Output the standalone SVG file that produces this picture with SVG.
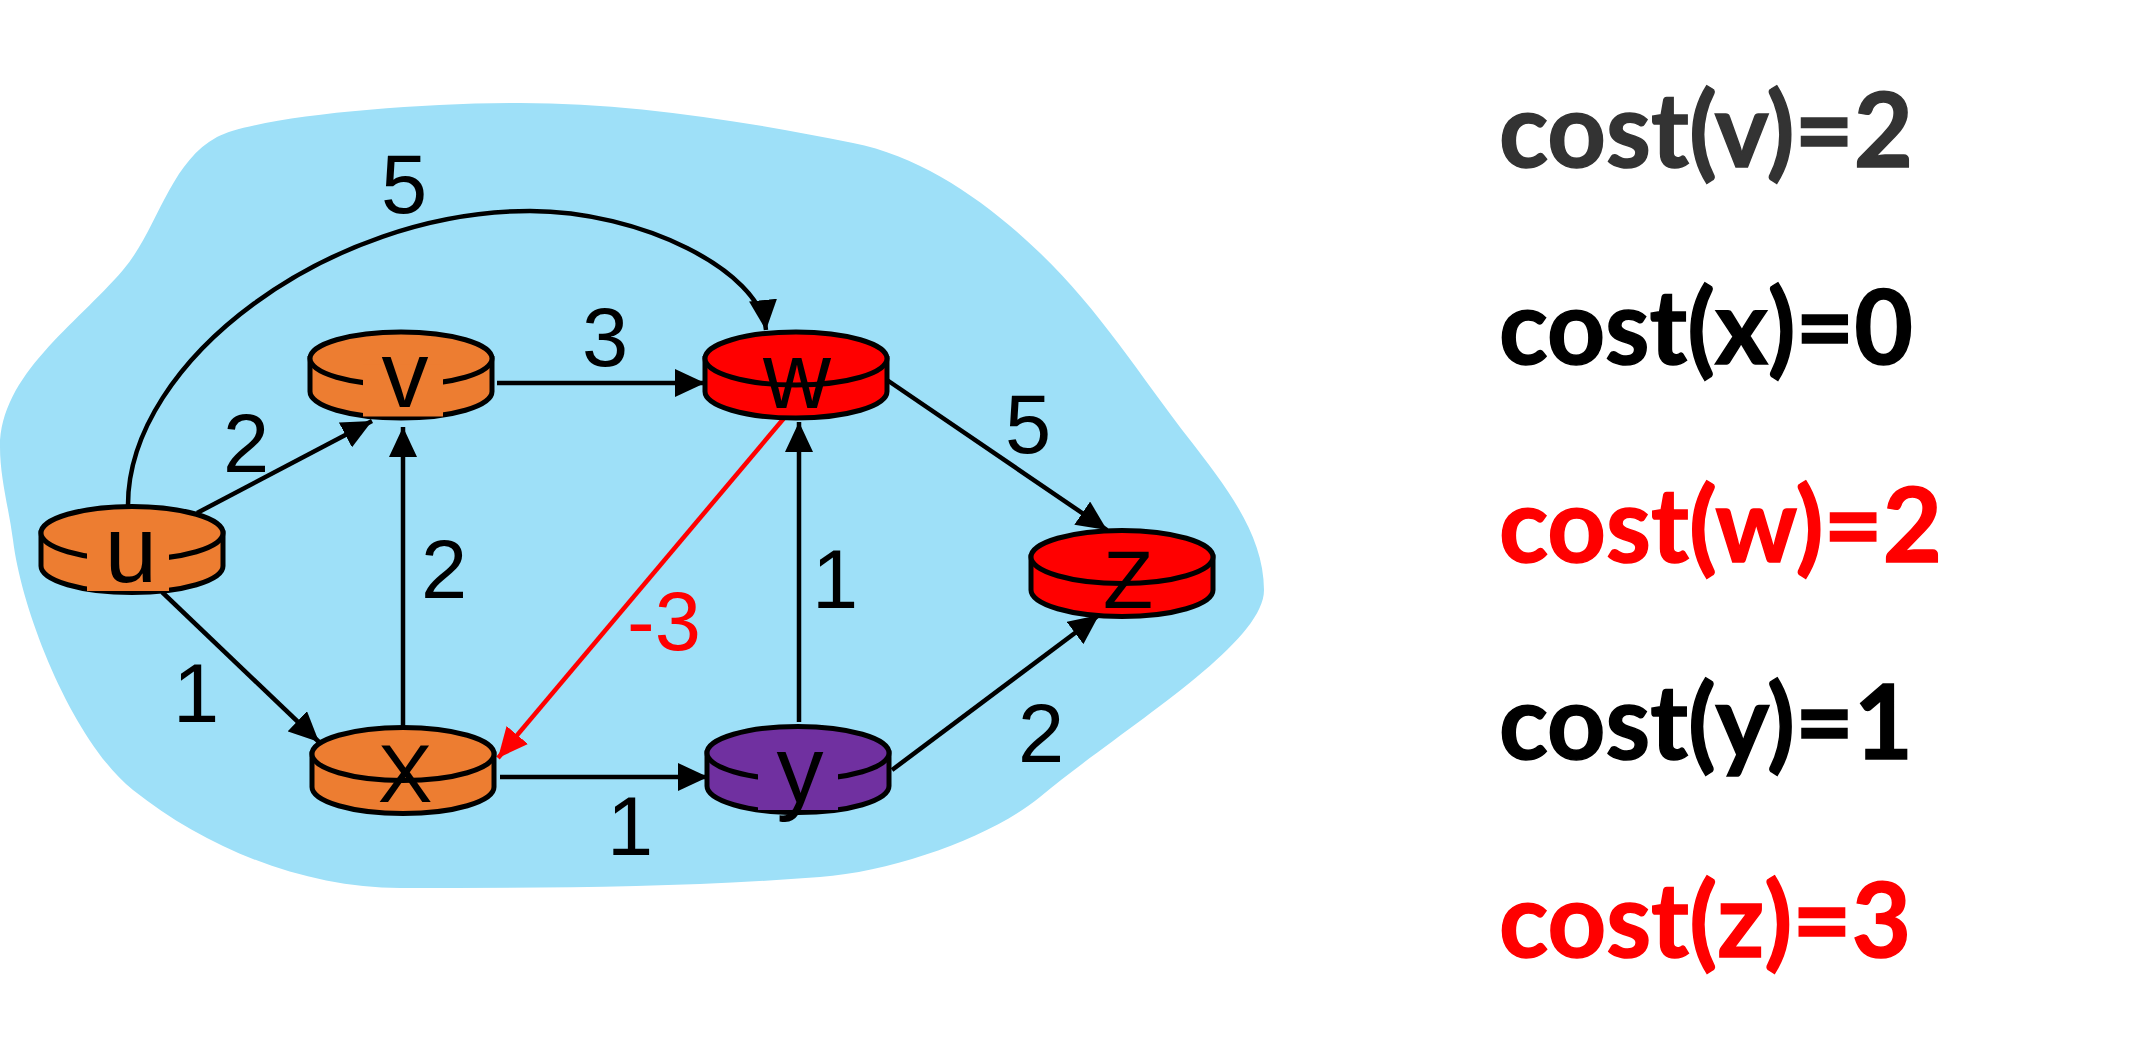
<svg xmlns="http://www.w3.org/2000/svg" xmlns:xlink="http://www.w3.org/1999/xlink" width="2143" height="1053" viewBox="0 0 2143 1053">
<style>
.blob{fill:#9EE0F8;stroke:none}
.edge{fill:none;stroke:#000;stroke-width:4.5}
.edge.red{stroke:#FF0000}
.node use{stroke:#000;stroke-width:5}
.orange{fill:#ED7D31}
.red{fill:#FF0000}
.purple{fill:#7030A0}
.nl{font-family:"Liberation Sans",Arial,sans-serif;font-size:94px;fill:#000;text-anchor:middle}
.nl.cap{font-size:82px}
.el{font-family:"Liberation Sans",Arial,sans-serif;font-size:83px;fill:#000;text-anchor:middle}
.el.neg{fill:#FF0000;text-anchor:start}
.cost{font-family:Lato,"Open Sans",sans-serif;font-weight:bold;font-size:104px;stroke-width:1.5}
</style>
<defs>
<path id="cyl" d="M-91,0 V33 A91 26.5 0 0 0 91,33 V0 Z"/>
<ellipse id="cap" cx="0" cy="0" rx="91" ry="26.5"/>
<marker id="ah" markerUnits="userSpaceOnUse" markerWidth="30" markerHeight="28" viewBox="0 0 30 28" refX="30" refY="14" orient="auto">
<path d="M0,0 L30,14 L0,28 Z" fill="#000"/>
</marker>
<marker id="ahr" markerUnits="userSpaceOnUse" markerWidth="30" markerHeight="28" viewBox="0 0 30 28" refX="30" refY="14" orient="auto">
<path d="M0,0 L30,14 L0,28 Z" fill="#FF0000"/>
</marker>
</defs>

<path class="blob" d="M0,447 C0,375 76,325 123,270 C158,229 169,163 217,137 C252,118 400,103 520,103 C631,103 744,121 853,143 C924,157 988,203 1040,253 C1098,308 1141,377 1190,440 C1224,484 1264,534 1264,590 C1264,645 1120,730 1040,797 C994,835 898,871 820,877 C680,888 540,888 400,888 C305,888 207,849 133,790 C74,743 22,614 13,540 C9,509 0,478 0,447 Z"/>

<g id="connectors">
<path class="edge" d="M128,505 C128,360 330,211 530,211 C640,211 760,270 766,330" marker-end="url(#ah)"/>
<line class="edge" x1="197" y1="513" x2="372" y2="421" marker-end="url(#ah)"/>
<line class="edge" x1="162" y1="592" x2="319" y2="742" marker-end="url(#ah)"/>
<line class="edge" x1="497" y1="383" x2="705" y2="383" marker-end="url(#ah)"/>
<line class="edge" x1="403" y1="732" x2="403" y2="427" marker-end="url(#ah)"/>
<line class="edge" x1="500" y1="777" x2="708" y2="777" marker-end="url(#ah)"/>
<line class="edge" x1="799" y1="722" x2="799" y2="422" marker-end="url(#ah)"/>
<line class="edge" x1="887" y1="380" x2="1107" y2="530" marker-end="url(#ah)"/>
<line class="edge" x1="892" y1="770" x2="1099" y2="615" marker-end="url(#ah)"/>
<line class="edge red" x1="785" y1="417" x2="498" y2="758" marker-end="url(#ahr)"/>
</g>

<g id="node-u" class="node" transform="translate(132,533)">
<use xlink:href="#cyl" class="orange"/>
<use xlink:href="#cap" class="orange"/>
<rect class="orange" x="-45" y="7" width="82" height="51"/>
<text class="nl" x="-1" y="49">u</text>
</g>
<g id="node-v" class="node" transform="translate(401,358.5)">
<use xlink:href="#cyl" class="orange"/>
<use xlink:href="#cap" class="orange"/>
<rect class="orange" x="-38" y="6" width="80" height="52"/>
<text class="nl" x="4" y="48.5">v</text>
</g>
<g id="node-w" class="node" transform="translate(796,358.5)">
<use xlink:href="#cyl" class="red"/>
<use xlink:href="#cap" class="red"/>
<text class="nl" x="1" y="49.5">w</text>
</g>
<g id="node-x" class="node" transform="translate(403,754)">
<use xlink:href="#cyl" class="orange"/>
<use xlink:href="#cap" class="orange"/>
<text class="nl cap" x="2" y="48">X</text>
</g>
<g id="node-y" class="node" transform="translate(798,753)">
<use xlink:href="#cyl" class="purple"/>
<use xlink:href="#cap" class="purple"/>
<rect class="purple" x="-40" y="7" width="80" height="50"/>
<text class="nl" x="2" y="49">y</text>
</g>
<g id="node-z" class="node" transform="translate(1122,557)">
<use xlink:href="#cyl" class="red"/>
<use xlink:href="#cap" class="red"/>
<text class="nl cap" x="6" y="51">Z</text>
</g>

<g id="edge-labels">
<text class="el" x="404" y="213">5</text>
<text class="el" x="605" y="366">3</text>
<text class="el" x="246" y="472">2</text>
<text class="el" x="444" y="598">2</text>
<text class="el" x="196" y="722">1</text>
<text class="el neg" x="627" y="650">-3</text>
<text class="el" x="835" y="608">1</text>
<text class="el" x="1028" y="453">5</text>
<text class="el" x="630" y="855">1</text>
<text class="el" x="1041" y="762">2</text>
</g>

<g id="costs">
<text class="cost" x="1499" y="167" fill="#333333" stroke="#333333" textLength="414" lengthAdjust="spacingAndGlyphs">cost(v)=2</text>
<text class="cost" x="1499" y="364" fill="#000000" stroke="#000000" textLength="414" lengthAdjust="spacingAndGlyphs">cost(x)=0</text>
<text class="cost" x="1499" y="562" fill="#FF0000" stroke="#FF0000" textLength="443" lengthAdjust="spacingAndGlyphs">cost(w)=2</text>
<text class="cost" x="1499" y="759" fill="#000000" stroke="#000000" textLength="414" lengthAdjust="spacingAndGlyphs">cost(y)=1</text>
<text class="cost" x="1499" y="957" fill="#FF0000" stroke="#FF0000" textLength="412" lengthAdjust="spacingAndGlyphs">cost(z)=3</text>
</g>
</svg>
